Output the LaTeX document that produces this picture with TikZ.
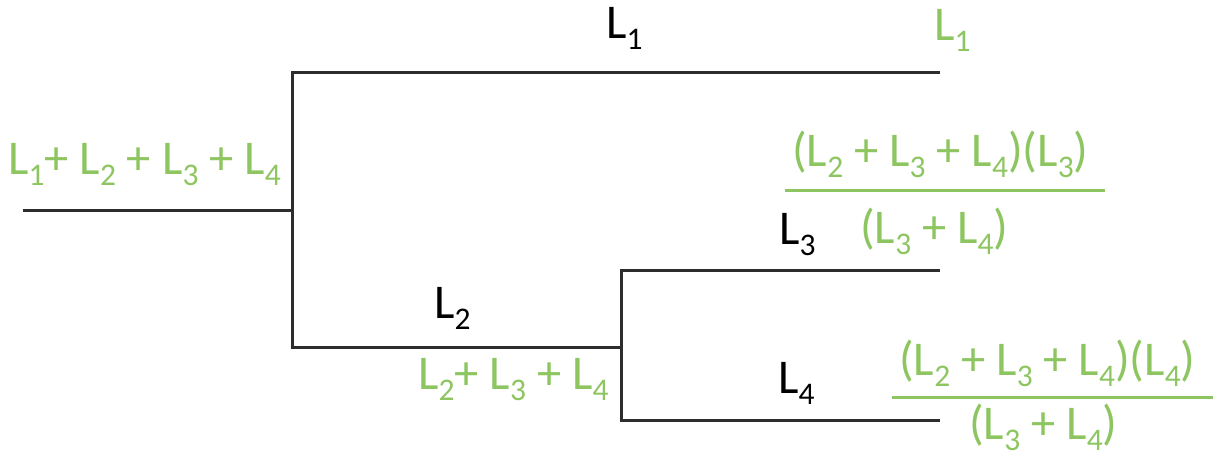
\documentclass[tikz,border=0pt]{standalone}
\usepackage{fontspec}
\setmainfont{Carlito}
\definecolor{leafgreen}{RGB}{141,198,96}
\definecolor{branch}{RGB}{45,45,45}
% L with a lowered index
\newcommand\Lsub[1]{L\raisebox{-11pt}{\fontsize{31.5}{32}\selectfont #1}}
\begin{document}
\begin{tikzpicture}[x=1pt,y=-1pt,
  branchline/.style={draw=branch,line width=3pt},
  fracrule/.style={draw=leafgreen,line width=3pt},
  lbl/.style={inner sep=0pt,anchor=base west,font=\fontsize{48.5}{52}\selectfont},
  blen/.style={lbl,text=black},
  gsum/.style={lbl,text=leafgreen}]
\useasboundingbox (0,0) rectangle (1217,458);

% tree skeleton
\coordinate (r0) at (23,210);
\coordinate (j1) at (292,210);
\coordinate (j1t) at (292,72);
\coordinate (j1b) at (292,347);
\coordinate (e1) at (940,72);
\coordinate (j2) at (621,347);
\coordinate (j2t) at (621,270);
\coordinate (j2b) at (621,420);
\coordinate (e3) at (940,270);
\coordinate (e4) at (940,420);

\draw[branchline] (r0) -- (j1);
\draw[branchline] (e1) -- (j1t) -- (j1b) -- (j2);
\draw[branchline] (e3) -- (j2t) -- (j2b) -- (e4);

% branch lengths
\node[blen] (l1) at (606,38) {\Lsub{1}};
\node[blen] (l2) at (434,318) {\Lsub{2}};
\node[blen] (l3) at (779,244) {\Lsub{3}};
\node[blen] (l4) at (778,393) {\Lsub{4}};

% totals
\node[gsum] (sroot) at (8,174) {\Lsub{1}+ \Lsub{2} + \Lsub{3} + \Lsub{4}};
\node[gsum] (s234) at (418,389) {\Lsub{2}+ \Lsub{3} + \Lsub{4}};
\node[gsum] (s1) at (934,40) {\Lsub{1}};

% shares at the lower tips
\node[gsum] (n3) at (792,166) {(\Lsub{2} + \Lsub{3} + \Lsub{4})(\Lsub{3})};
\node[gsum] (d3) at (860,243) {(\Lsub{3} + \Lsub{4})};
\coordinate (f3a) at (785,190);
\coordinate (f3b) at (1105,190);
\draw[fracrule] (f3a) -- (f3b);

\node[gsum] (n4) at (899,375) {(\Lsub{2} + \Lsub{3} + \Lsub{4})(\Lsub{4})};
\node[gsum] (d4) at (969,439) {(\Lsub{3} + \Lsub{4})};
\coordinate (f4a) at (892,397);
\coordinate (f4b) at (1213,397);
\draw[fracrule] (f4a) -- (f4b);
\end{tikzpicture}
\end{document}
